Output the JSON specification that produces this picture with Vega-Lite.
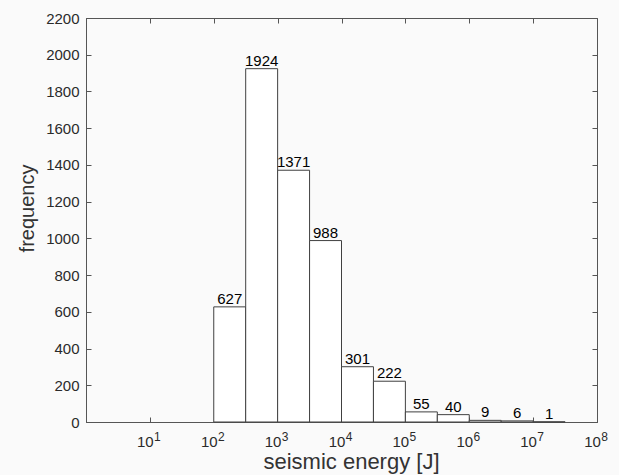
{
  "$schema": "https://vega.github.io/schema/vega-lite/v6.json",
  "width": 511,
  "height": 404,
  "autosize": "none",
  "padding": {"left": 86, "top": 18, "right": 22, "bottom": 53},
  "background": "#fafafa",
  "config": {
    "view": {"stroke": "#555555", "strokeWidth": 1, "fill": "#fafafa"},
    "axis": {
      "domainColor": "#555555",
      "tickColor": "#555555",
      "tickSize": -5,
      "grid": false,
      "labelFont": "Liberation Sans",
      "labelFontSize": 15,
      "labelColor": "#2a2a2a",
      "titleFont": "Liberation Sans",
      "titleFontWeight": "normal",
      "titleColor": "#333333",
      "labelOverlap": false,
      "labelFlush": false
    }
  },
  "data": {
    "values": [
      {"lo": 100, "hi": 316.228, "mid": 177.828, "count": 627},
      {"lo": 316.228, "hi": 1000, "mid": 562.341, "count": 1924},
      {"lo": 1000, "hi": 3162.28, "mid": 1778.28, "count": 1371},
      {"lo": 3162.28, "hi": 10000, "mid": 5623.41, "count": 988},
      {"lo": 10000, "hi": 31622.8, "mid": 17782.8, "count": 301},
      {"lo": 31622.8, "hi": 100000, "mid": 56234.1, "count": 222},
      {"lo": 100000, "hi": 316228, "mid": 177828, "count": 55},
      {"lo": 316228, "hi": 1000000, "mid": 562341, "count": 40},
      {"lo": 1000000, "hi": 3162278, "mid": 1778279, "count": 9},
      {"lo": 3162278, "hi": 10000000, "mid": 5623413, "count": 6},
      {"lo": 10000000, "hi": 31622777, "mid": 17782794, "count": 1}
    ]
  },
  "layer": [
    {
      "mark": {"type": "bar", "fill": "white", "stroke": "#404040", "strokeWidth": 1},
      "encoding": {
        "x": {
          "field": "lo",
          "type": "quantitative",
          "scale": {"type": "log", "domain": [1, 100000000], "nice": false},
          "axis": {
            "orient": "bottom",
            "values": [10, 100, 1000, 10000, 100000, 1000000, 10000000, 100000000],
            "labelExpr": "'10'",
            "labelOffset": -5,
            "labelPadding": 17,
            "title": "seismic energy [J]",
            "titleFontSize": 22,
            "titlePadding": 2,
            "titleX": 265
          }
        },
        "x2": {"field": "hi"},
        "y": {
          "field": "count",
          "type": "quantitative",
          "scale": {"domain": [0, 2200], "nice": false},
          "axis": {
            "orient": "left",
            "format": "d",
            "values": [0, 200, 400, 600, 800, 1000, 1200, 1400, 1600, 1800, 2000, 2200],
            "labelPadding": 12,
            "title": "frequency",
            "titleFontSize": 20,
            "titlePadding": 8,
            "titleY": 190
          }
        },
        "y2": {"datum": 0}
      }
    },
    {
      "mark": {"type": "text", "baseline": "alphabetic", "align": "center", "dy": -3, "font": "Liberation Sans", "fontSize": 15, "color": "black"},
      "encoding": {
        "x": {
          "field": "mid",
          "type": "quantitative",
          "axis": {
            "orient": "top",
            "values": [10, 100, 1000, 10000, 100000, 1000000, 10000000],
            "labels": false,
            "title": null
          }
        },
        "y": {
          "field": "count",
          "type": "quantitative",
          "axis": {
            "orient": "right",
            "values": [200, 400, 600, 800, 1000, 1200, 1400, 1600, 1800, 2000],
            "labels": false,
            "title": null
          }
        },
        "text": {"field": "count", "type": "quantitative"}
      }
    },
    {
      "mark": {"type": "bar", "fillOpacity": 0, "strokeOpacity": 0},
      "encoding": {
        "x": {
          "field": "lo",
          "type": "quantitative",
          "axis": {
            "orient": "bottom",
            "values": [10, 100, 1000, 10000, 100000, 1000000, 10000000, 100000000],
            "labelExpr": "round(log(datum.value)/LN10)",
            "labelFontSize": 12,
            "labelOffset": 7,
            "labelPadding": 9,
            "ticks": false,
            "domain": false,
            "title": null
          }
        },
        "x2": {"field": "hi"},
        "y": {"field": "count", "type": "quantitative", "axis": null},
        "y2": {"datum": 0}
      }
    }
  ],
  "resolve": {"axis": {"x": "independent", "y": "independent"}}
}
